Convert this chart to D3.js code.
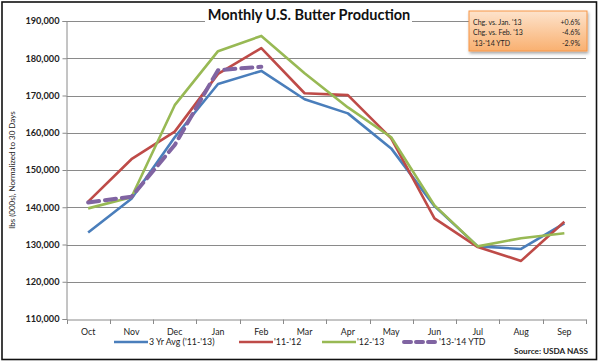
<!DOCTYPE html>
<html>
<head>
<meta charset="utf-8">
<script src="https://cdn.jsdelivr.net/npm/d3@7"></script>
<style>
body{margin:0;background:#fff;}
svg text{font-family:Lato,"Open Sans",sans-serif;}
</style>
</head>
<body>
<div id="chart"></div>
<script>
// datos
var months=['Oct','Nov','Dec','Jan','Feb','Mar','Apr','May','Jun','Jul','Aug','Sep'];
var avg3yr=[133200,142300,158800,173100,176600,169000,165200,155800,140300,129500,128800,135700];
var y1112=[141500,152900,160300,175800,182700,170600,170100,158500,137000,129300,125600,136100];
var y1213=[139700,142700,167400,181900,186000,176000,166800,158800,140500,129500,131700,133000];
var y1314=[141300,142800,156700,176800,177700];
var yTicks=[110000,120000,130000,140000,150000,160000,170000,180000,190000];
var seriesNames=["3 Yr Avg ('11-'13)","'11-'12","'12-'13","'13-'14 YTD"];
var seriesColors=['#4a7ebb','#be4b48','#98b954','#8064a2'];
var boxRows=[["Chg. vs. Jan. '13","+0.6%"],["Chg. vs. Feb. '13","-4.6%"],["'13-'14 YTD","-2.9%"]];

var W=600,H=363;
var svg=d3.select('#chart').append('svg').attr('width',W).attr('height',H);

// marco exterior
svg.append('rect').attr('x',2).attr('y',2).attr('width',594.5).attr('height',357.5)
    .attr('fill','#fff').attr('stroke','#111').attr('stroke-width',1.6);

var x=d3.scaleBand().domain(months).range([66.5,586]);
var y=d3.scaleLinear().domain([110000,190000]).range([319,21]);

// lineas de cuadricula
svg.append('g').selectAll('line').data(yTicks.slice(1)).enter().append('line')
    .attr('x1',66.5).attr('x2',586)
    .attr('y1',d=>Math.round(y(d))+0.5).attr('y2',d=>Math.round(y(d))+0.5)
    .attr('stroke','#8a8a8a').attr('stroke-width',1);

// eje y
var yAxis=svg.append('g').attr('transform','translate(66.5,0)')
    .call(d3.axisLeft(y).tickValues(yTicks).tickSize(4).tickFormat(d3.format(',')));
yAxis.select('.domain').attr('stroke','#8a8a8a');
yAxis.selectAll('.tick line').attr('stroke','#8a8a8a');
yAxis.selectAll('.tick text').attr('font-size','9.2px').attr('font-weight','bold').attr('fill','#222').attr('x',-7);

// eje x
var xAxis=svg.append('g').attr('transform','translate(0,319.5)')
    .call(d3.axisBottom(x).tickSize(0).tickPadding(9));
xAxis.select('.domain').attr('stroke','#8a8a8a');
xAxis.selectAll('.tick text').attr('font-size','8.8px').attr('fill','#222');
svg.append('g').selectAll('line').data(months.concat(['end'])).enter().append('line')
    .attr('x1',(d,i)=>Math.round(66.5+i*x.bandwidth())+0.5)
    .attr('x2',(d,i)=>Math.round(66.5+i*x.bandwidth())+0.5)
    .attr('y1',319.5).attr('y2',324)
    .attr('stroke','#8a8a8a');

// titulo del eje y
svg.append('text').attr('transform','translate(15,170) rotate(-90)')
    .attr('text-anchor','middle').attr('font-size','8px').attr('fill','#222')
    .text('lbs (000s), Normalized to 30 Days');

// series
var line=d3.line().x((d,i)=>x(months[i])+x.bandwidth()/2).y(d=>y(d));
var data=[avg3yr,y1112,y1213,y1314];
data.forEach(function(s,i){
    var p=svg.append('path').datum(s).attr('d',line)
        .attr('fill','none').attr('stroke',seriesColors[i])
        .attr('stroke-width',i===3?4:2.6).attr('stroke-linejoin','round');
    if(i===3) p.attr('stroke-dasharray','11,6').attr('stroke-linecap','round');
});

// titulo
svg.append('rect').attr('x',205).attr('y',8).attr('width',207).attr('height',18).attr('fill','#fff');
svg.append('text').attr('x',309).attr('y',20).attr('text-anchor','middle')
    .attr('font-size','14.5px').attr('font-weight','bold').attr('fill','#111')
    .text('Monthly U.S. Butter Production');

// cuadro de cambios
var defs=svg.append('defs');
var grad=defs.append('linearGradient').attr('id','boxGrad').attr('x1',0).attr('y1',0).attr('x2',0).attr('y2',1);
grad.append('stop').attr('offset','0%').attr('stop-color','#fde3cc');
grad.append('stop').attr('offset','100%').attr('stop-color','#f9b070');
var flt=defs.append('filter').attr('id','shadow').attr('x','-20%').attr('y','-20%').attr('width','140%').attr('height','150%');
flt.append('feDropShadow').attr('dx',1).attr('dy',2).attr('stdDeviation',1.5).attr('flood-color','#000').attr('flood-opacity',0.35);
svg.append('rect').attr('x',469).attr('y',11).attr('width',118).attr('height',40)
    .attr('fill','url(#boxGrad)').attr('stroke','#f79646').attr('stroke-width',1)
    .attr('filter','url(#shadow)');
var rows=svg.append('g').selectAll('g').data(boxRows).enter().append('g');
rows.append('text').attr('x',473).attr('y',(d,i)=>25+i*10.3)
    .attr('font-size','7px').attr('fill','#222').text(d=>d[0]);
rows.append('text').attr('x',580).attr('y',(d,i)=>25+i*10.3).attr('text-anchor','end')
    .attr('font-size','7px').attr('fill','#222').text(d=>d[1]);

// leyenda
var legX=[114,239,322,404];
var leg=svg.append('g').selectAll('g').data(seriesNames).enter().append('g');
leg.append('line').attr('x1',(d,i)=>legX[i]).attr('x2',(d,i)=>legX[i]+34)
    .attr('y1',342).attr('y2',342)
    .attr('stroke',(d,i)=>seriesColors[i])
    .attr('stroke-width',(d,i)=>i===3?4:2.6)
    .attr('stroke-dasharray',(d,i)=>i===3?'7,5':null)
    .attr('stroke-linecap',(d,i)=>i===3?'round':null);
leg.append('text').attr('x',(d,i)=>legX[i]+35).attr('y',345)
    .attr('font-size','8.8px').attr('fill','#222').text(d=>d);

// fuente
svg.append('text').attr('x',588).attr('y',354).attr('text-anchor','end')
    .attr('font-size','8.2px').attr('font-weight','bold').attr('fill','#222')
    .text('Source: USDA NASS');
</script>
</body>
</html>
